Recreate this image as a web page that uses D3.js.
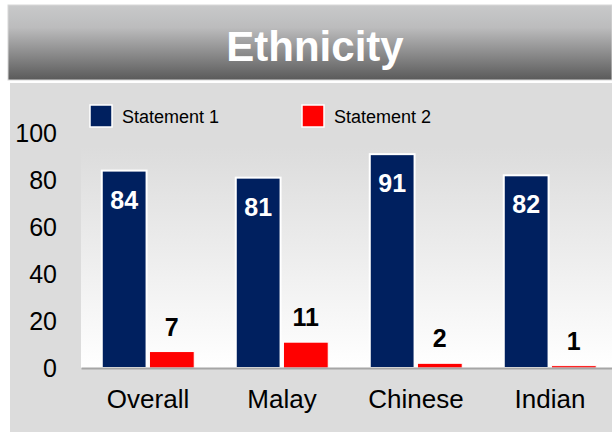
<!DOCTYPE html>
<html>
<head>
<meta charset="utf-8">
<script src="https://cdn.jsdelivr.net/npm/d3@7"></script>
<style>
  body { margin: 0; background: #ffffff; }
  svg { display: block; font-family: "Liberation Sans", Arial, sans-serif; }
</style>
</head>
<body>
<div id="chart"></div>
<script>
var categories = ["Overall", "Malay", "Chinese", "Indian"];
var seriesNames = ["Statement 1", "Statement 2"];
var statement1 = [84, 81, 91, 82];
var statement2 = [7, 11, 2, 1];
var yTicks = [0, 20, 40, 60, 80, 100];
var title = "Ethnicity";

var WIDTH = 612;
var HEIGHT = 434;
var NAVY = "#00205f";
var RED = "#ff0000";

var root = d3.select("#chart")
  .append("svg")
  .attr("width", WIDTH)
  .attr("height", HEIGHT);

var defs = root.append("defs");

var bannerGrad = defs.append("linearGradient")
  .attr("id", "banner")
  .attr("x1", 0).attr("y1", 0).attr("x2", 0).attr("y2", 1);
bannerGrad.append("stop").attr("offset", "0%").attr("stop-color", "#c8c9ca");
bannerGrad.append("stop").attr("offset", "30%").attr("stop-color", "#bcbcbd");
bannerGrad.append("stop").attr("offset", "100%").attr("stop-color", "#5a5a5a");

var plotGrad = defs.append("linearGradient")
  .attr("id", "plotbg")
  .attr("x1", 0).attr("y1", 0).attr("x2", 0).attr("y2", 1);
plotGrad.append("stop").attr("offset", "0%").attr("stop-color", "#dcdcdc");
plotGrad.append("stop").attr("offset", "100%").attr("stop-color", "#ffffff");

// title banner
root.append("rect")
  .attr("x", 8).attr("y", 5)
  .attr("width", WIDTH - 8).attr("height", 75)
  .attr("fill", "url(#banner)")
  .attr("stroke", "#d8d8d8")
  .attr("stroke-width", 1);

root.append("text")
  .attr("x", 315).attr("y", 61)
  .attr("text-anchor", "middle")
  .attr("fill", "#ffffff")
  .style("font-size", "42px")
  .style("font-weight", "bold")
  .text(title);

// chart panel
root.append("rect")
  .attr("x", 10).attr("y", 83)
  .attr("width", WIDTH - 10).attr("height", 349)
  .attr("fill", "#dcdcdc");

var y = d3.scaleLinear().domain([0, 100]).range([368, 133]);

var x = d3.scaleBand()
  .domain(categories)
  .range([81, 617])
  .paddingInner(0.31)
  .paddingOuter(0.155);

var xs = d3.scaleBand()
  .domain(seriesNames)
  .range([0, x.bandwidth()])
  .paddingInner(0.06);

root.append("rect")
  .attr("x", 81).attr("y", 147)
  .attr("width", WIDTH - 81).attr("height", y(0) - 147)
  .attr("fill", "url(#plotbg)");

// y axis labels
var yAxis = root.append("g")
  .attr("transform", "translate(57,0)")
  .call(d3.axisLeft(y).tickValues(yTicks).tickSize(0).tickPadding(0));
yAxis.select(".domain").remove();
yAxis.selectAll("text")
  .attr("dy", "0.35em")
  .attr("fill", "#000000")
  .style("font-size", "25px")
  .style("font-family", "'Liberation Sans', Arial, sans-serif");

// bars
var rows = categories.map(function(c, i) {
  return { cat: c, values: [statement1[i], statement2[i]] };
});

var groups = root.selectAll("g.cat")
  .data(rows)
  .enter().append("g")
  .attr("class", "cat")
  .attr("transform", function(d) { return "translate(" + x(d.cat) + ",0)"; });

groups.append("rect")
  .attr("x", xs(seriesNames[0]))
  .attr("y", function(d) { return y(d.values[0]); })
  .attr("width", xs.bandwidth())
  .attr("height", function(d) { return y(0) - y(d.values[0]); })
  .attr("fill", NAVY)
  .attr("stroke", "#ffffff")
  .attr("stroke-width", 2);

groups.append("rect")
  .attr("x", xs(seriesNames[1]))
  .attr("y", function(d) { return y(d.values[1]); })
  .attr("width", xs.bandwidth())
  .attr("height", function(d) { return y(0) - y(d.values[1]); })
  .attr("fill", RED)
  .attr("stroke", "#ffffff")
  .attr("stroke-width", 1);

// value labels
groups.append("text")
  .attr("x", xs(seriesNames[0]) + xs.bandwidth() / 2)
  .attr("y", function(d) { return y(d.values[0]) + 38; })
  .attr("text-anchor", "middle")
  .attr("fill", "#ffffff")
  .style("font-size", "25px")
  .style("font-weight", "bold")
  .text(function(d) { return d.values[0]; });

groups.append("text")
  .attr("x", xs(seriesNames[1]) + xs.bandwidth() / 2)
  .attr("y", function(d) { return y(d.values[1]) - 16; })
  .attr("text-anchor", "middle")
  .attr("fill", "#000000")
  .style("font-size", "25px")
  .style("font-weight", "bold")
  .text(function(d) { return d.values[1]; });

// x axis
var xAxis = root.append("g")
  .attr("transform", "translate(0," + y(0) + ")")
  .call(d3.axisBottom(x).tickSize(0).tickSizeOuter(0).tickPadding(22));
xAxis.select(".domain")
  .attr("stroke", "#a6a6a6")
  .attr("stroke-width", 2);
xAxis.selectAll("text")
  .attr("fill", "#000000")
  .style("font-size", "26px")
  .style("font-family", "'Liberation Sans', Arial, sans-serif");

// legend
var legendX = [90, 302];
var legendColors = [NAVY, RED];
var legend = root.selectAll("g.legend")
  .data(seriesNames)
  .enter().append("g")
  .attr("class", "legend")
  .attr("transform", function(d, i) { return "translate(" + legendX[i] + ",105)"; });

legend.append("rect")
  .attr("width", 22).attr("height", 22)
  .attr("fill", function(d, i) { return legendColors[i]; })
  .attr("stroke", "#ffffff")
  .attr("stroke-width", 1.5);

legend.append("text")
  .attr("x", 32).attr("y", 18)
  .attr("fill", "#000000")
  .style("font-size", "18px")
  .text(function(d) { return d; });
</script>
</body>
</html>
